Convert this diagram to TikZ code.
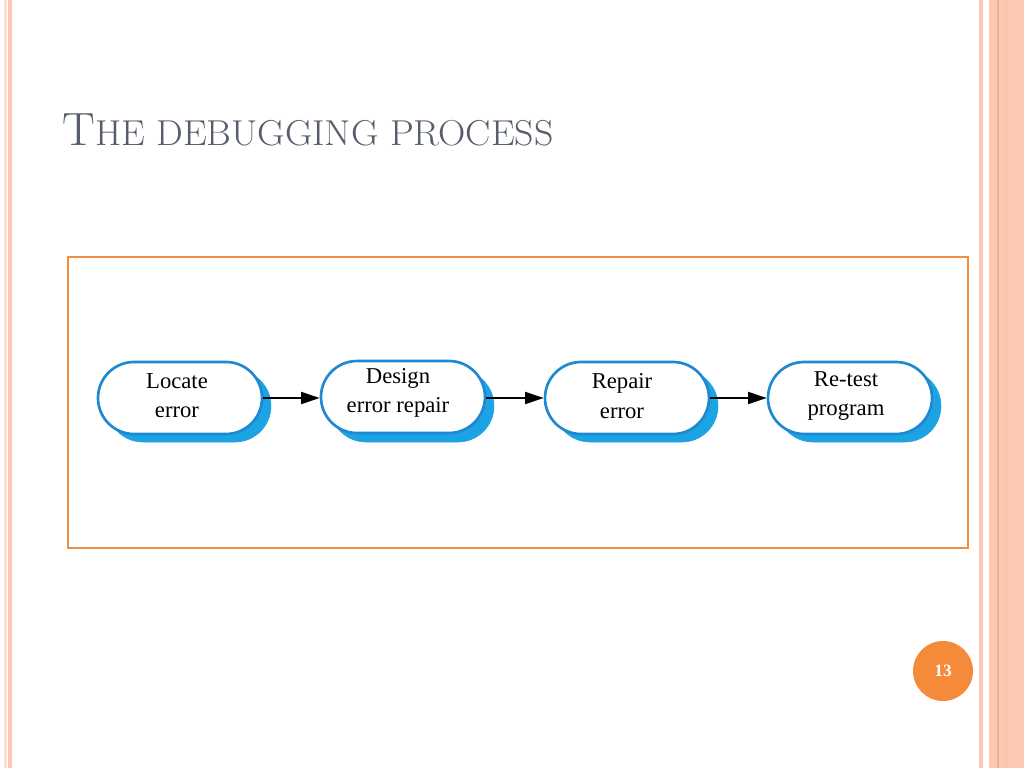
\documentclass[tikz,border=0pt]{standalone}
\usepackage{fontspec}
\newfontfamily\boxfont{Liberation Serif}
\usetikzlibrary{arrows.meta,shapes.misc}
\definecolor{stripe}{HTML}{FBC9B3}
\definecolor{stripedk}{HTML}{F4AE8A}
\definecolor{titlegray}{HTML}{565D6B}
\definecolor{frameor}{HTML}{F58B3C}
\definecolor{boxblue}{HTML}{1E88D0}
\definecolor{shadblue}{HTML}{1BA3E4}
\definecolor{pagenum}{HTML}{F68A3B}
\tikzset{
  stepbox/.style={rounded rectangle, draw=boxblue, line width=2pt, fill=white,
    minimum width=123pt, minimum height=54pt, align=center,
    font=\boxfont\fontsize{17}{22}\selectfont, text=black, inner sep=0pt},
  shadowbox/.style={rounded rectangle, fill=shadblue, draw=shadblue,
    minimum width=123pt, minimum height=54pt, inner sep=0pt},
  steptext/.style={font=\boxfont\fontsize{17}{22}\selectfont, align=center, inner sep=0pt},
  flow/.style={-{Triangle[length=14pt,width=9pt]}, line width=1.6pt, black}
}
\newcommand{\smc}[1]{{\fontsize{27}{30}\selectfont #1}}
\begin{document}
\begin{tikzpicture}[x=0.75pt,y=-0.75pt]
\useasboundingbox (0,0) rectangle (1024,768);
\fill[white] (0,0) rectangle (1024,768);
% left stripes
\fill[stripe!60] (4,0) rectangle (7,768);
\fill[stripe] (8,0) rectangle (12,768);
% right stripes
\fill[stripe] (979,0) rectangle (983,768);
\fill[stripe] (989,0) rectangle (1024,768);
\fill[stripedk] (997,0) rectangle (999,768);
\fill[stripe!80!stripedk] (1005,0) rectangle (1007,768);
% title
\node[anchor=base west, text=titlegray, inner sep=0pt, xscale=1.05, font=\fontsize{35}{40}\selectfont] (title) at (62,145) {T\smc{HE DEBUGGING PROCESS}};
% frame
\draw[frameor, line width=1.6pt] (68,257) rectangle (968,548);
% shadows
\foreach \x/\n in {180/a,403/b,627/c,850/d}{
  \node[shadowbox] (s\n) at (\x+9,406) {};
}
% boxes
\node[stepbox] (a) at (180,398) {};
\node[stepbox] (b) at (403,397) {};
\node[stepbox] (c) at (627,398) {};
\node[stepbox] (d) at (850,398) {};
\node[steptext] (ta) at (177,396) {Locate\\error};
\node[steptext] (tb) at (398,393) {Design\\error repair};
\node[steptext] (tc) at (622,396) {Repair\\error};
\node[steptext] (td) at (846,396) {Re-test\\program};
\draw[flow] (a.east) -- (a.east -| b.west);
\draw[flow] (b.east |- c.west) -- (c.west);
\draw[flow] (c.east) -- (d.west);
% page number
\node[circle, fill=pagenum, minimum size=45pt, inner sep=0pt, text=white,
  font=\boxfont\bfseries\fontsize{13}{15}\selectfont] (pg) at (943,671) {13};
\end{tikzpicture}
\end{document}
